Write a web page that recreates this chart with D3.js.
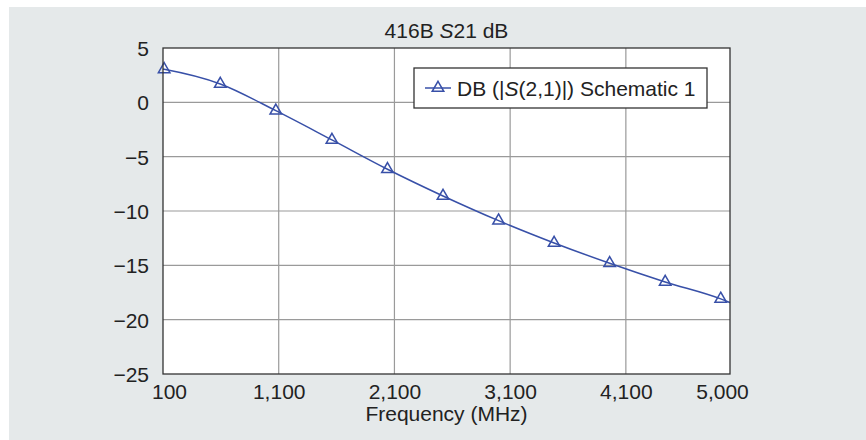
<!DOCTYPE html>
<html>
<head>
<meta charset="utf-8">
<script src="https://cdn.jsdelivr.net/npm/d3@7"></script>
<style>
  html, body { margin: 0; padding: 0; background: #ffffff; }
  svg { display: block; font-family: "Liberation Sans", Arial, Helvetica, sans-serif; }
</style>
</head>
<body>
<svg id="chart" width="866" height="440"></svg>
<script>
// ---- data ----
const markerFreq = [110, 595, 1075, 1560, 2040, 2520, 3000, 3480, 3960, 4440, 4920];
const markerDb   = [3.04, 1.69, -0.77, -3.46, -6.16, -8.62, -10.89, -12.94, -14.81, -16.53, -18.09];
const startFreq = 100,  startDb = 3.06;
const endFreq   = 5000, endDb   = -18.43;
const xTickValues = [100, 1100, 2100, 3100, 4100, 5000];
const yTickValues = [5, 0, -5, -10, -15, -20, -25];
const titleParts = ["416B ", "S", "21 dB"];
const legendParts = ["DB (|", "S", "(2,1)|) Schematic 1"];
const xAxisTitle = "Frequency (MHz)";

// ---- layout ----
const W = 866, H = 440;
const plot = { left: 163, right: 730, top: 48, bottom: 374 };
const lineColor = "#3850a8";
const fontSize = 21;

const svg = d3.select("#chart");

svg.append("rect").attr("x", 9).attr("y", 7).attr("width", W - 9).attr("height", H - 7)
  .attr("fill", "#e5e9ea");

const x = d3.scaleLinear().domain([100, 5000]).range([plot.left, plot.right]);
const y = d3.scaleLinear().domain([-25, 5]).range([plot.bottom, plot.top]);

// plot background
svg.append("rect").attr("x", plot.left).attr("y", plot.top)
  .attr("width", plot.right - plot.left).attr("height", plot.bottom - plot.top)
  .attr("fill", "#ffffff");

// gridlines
const grid = svg.append("g").attr("stroke", "#9a9a9a").attr("stroke-width", 1.2);
grid.selectAll("line.vx").data(xTickValues.slice(1, -1)).join("line")
  .attr("x1", d => x(d)).attr("x2", d => x(d))
  .attr("y1", plot.top).attr("y2", plot.bottom);
grid.selectAll("line.hy").data(yTickValues.slice(1, -1)).join("line")
  .attr("x1", plot.left).attr("x2", plot.right)
  .attr("y1", d => y(d)).attr("y2", d => y(d));

// axes (labels only, no tick marks)
const xAxis = d3.axisBottom(x).tickValues(xTickValues).tickFormat(d3.format(",")).tickSize(0).tickPadding(0);
const gx = svg.append("g").attr("transform", `translate(0,${plot.bottom})`).call(xAxis);
gx.select(".domain").remove();
gx.selectAll("text")
  .attr("font-size", fontSize).attr("font-family", "Liberation Sans, Arial, sans-serif")
  .attr("fill", "#222").attr("dy", null).attr("y", 25)
  .attr("dx", (d, i) => i === 0 ? 6 : (i === xTickValues.length - 1 ? -8 : 0));

const yAxis = d3.axisLeft(y).tickValues(yTickValues).tickSize(0).tickPadding(14);
const gy = svg.append("g").attr("transform", `translate(${plot.left},0)`).call(yAxis);
gy.select(".domain").remove();
gy.selectAll("text")
  .attr("font-size", fontSize).attr("font-family", "Liberation Sans, Arial, sans-serif")
  .attr("fill", "#222").attr("dy", "0.35em");

// data line
const linePts = [[startFreq, startDb]]
  .concat(markerFreq.map((f, i) => [f, markerDb[i]]))
  .concat([[endFreq, endDb]]);
const line = d3.line().x(d => x(d[0])).y(d => y(d[1])).curve(d3.curveMonotoneX);

svg.append("path").datum(linePts).attr("d", line)
  .attr("fill", "none").attr("stroke", lineColor).attr("stroke-width", 1.5);

const tri = d3.symbol().type(d3.symbolTriangle).size(58);
svg.append("g").selectAll("path").data(markerFreq.map((f, i) => [f, markerDb[i]])).join("path")
  .attr("d", tri)
  .attr("transform", d => `translate(${x(d[0])},${y(d[1])})`)
  .attr("fill", "none").attr("stroke", lineColor).attr("stroke-width", 1.5);

// plot frame
svg.append("rect").attr("x", plot.left).attr("y", plot.top)
  .attr("width", plot.right - plot.left).attr("height", plot.bottom - plot.top)
  .attr("fill", "none").attr("stroke", "#333").attr("stroke-width", 1.3);

// title
const title = svg.append("text").attr("x", (plot.left + plot.right) / 2).attr("y", 38)
  .attr("text-anchor", "middle").attr("font-size", fontSize).attr("fill", "#222");
title.selectAll("tspan").data(titleParts).join("tspan")
  .attr("font-style", (d, i) => i === 1 ? "italic" : "normal").text(d => d);

// x axis title
svg.append("text").attr("x", (plot.left + plot.right) / 2).attr("y", 421)
  .attr("text-anchor", "middle").attr("font-size", fontSize).attr("fill", "#222")
  .text(xAxisTitle);

// legend
const lg = svg.append("g");
lg.append("rect").attr("x", 414).attr("y", 68).attr("width", 293).attr("height", 40)
  .attr("fill", "#fff").attr("stroke", "#333").attr("stroke-width", 1.3);
lg.append("line").attr("x1", 425).attr("x2", 451).attr("y1", 88).attr("y2", 88)
  .attr("stroke", lineColor).attr("stroke-width", 1.5);
lg.append("path").attr("d", tri).attr("transform", "translate(438,88)")
  .attr("fill", "none").attr("stroke", lineColor).attr("stroke-width", 1.5);
const lt = lg.append("text").attr("x", 457).attr("y", 95.5)
  .attr("font-size", fontSize).attr("fill", "#222");
lt.selectAll("tspan").data(legendParts).join("tspan")
  .attr("font-style", (d, i) => i === 1 ? "italic" : "normal").text(d => d);
</script>
</body>
</html>
